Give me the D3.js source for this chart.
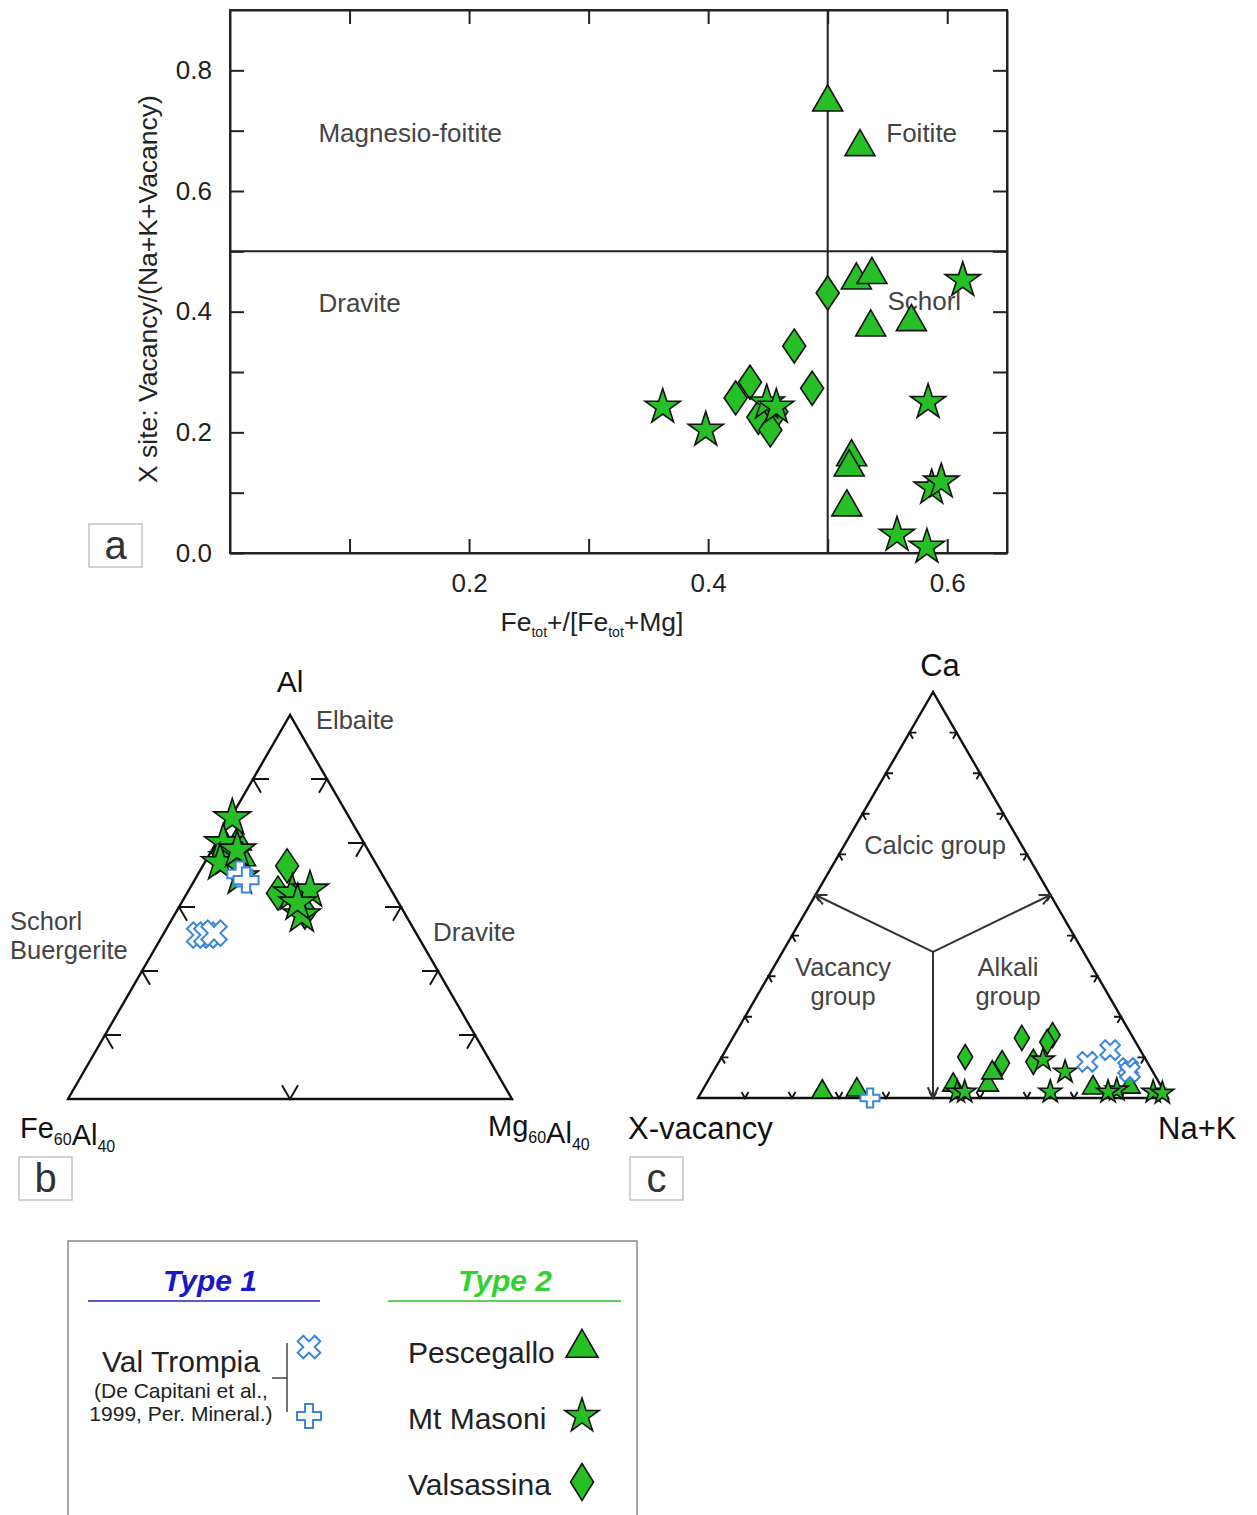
<!DOCTYPE html>
<html><head><meta charset="utf-8">
<script src="https://cdn.jsdelivr.net/npm/d3@7"></script>
<style>
body{margin:0;background:#fff;}
text{font-family:"Liberation Sans",Arial,sans-serif;}
</style>
</head><body>
<svg id="chart" width="1257" height="1515"></svg>
<script>
// ---------- Panel a: [Fe_tot/(Fe_tot+Mg), X-site vacancy/(Na+K+vacancy)]
const aPescegallo = [[0.500,0.747],[0.527,0.673],[0.524,0.452],[0.537,0.461],[0.536,0.374],[0.570,0.383],[0.520,0.159],[0.518,0.142],[0.516,0.076]];
const aMasoni = [[0.613,0.452],[0.584,0.250],[0.587,0.108],[0.595,0.118],[0.558,0.030],[0.583,0.010],[0.362,0.242],[0.398,0.204],[0.449,0.249],[0.457,0.242]];
const aValsassina = [[0.500,0.431],[0.472,0.343],[0.487,0.273],[0.435,0.283],[0.423,0.257],[0.442,0.225],[0.457,0.234],[0.452,0.204]];
const aXTicks = [0.1,0.2,0.3,0.4,0.5,0.6];
const aYTicks = [0,0.1,0.2,0.3,0.4,0.5,0.6,0.7,0.8];
const aFields = [{t:"Magnesio-foitite",x:0.074,y:0.681},{t:"Foitite",x:0.549,y:0.681},{t:"Dravite",x:0.074,y:0.400},{t:"Schorl",x:0.550,y:0.403}];

// ---------- Panel b (Al – Fe60Al40 – Mg60Al40), triangle fractions [Al, Mg]; Fe = 1 - Al - Mg
const bPescegallo = [[0.661,0.023],[0.669,0.048],[0.628,0.078]];
const bMasoni = [[0.732,0.004],[0.628,0.046],[0.667,0.016],[0.578,0.098],[0.615,0.035],[0.648,0.057],[0.536,0.237],[0.544,0.273],[0.479,0.287],[0.510,0.262]];
const bValsassina = [[0.607,0.190],[0.536,0.205],[0.518,0.259],[0.487,0.290]];
const bTrompiaX = [[0.427,0.083],[0.427,0.099],[0.432,0.113]];
const bTrompiaPlus = [[0.586,0.094],[0.570,0.116]];
const bTicks = [1/6,2/6,3/6,4/6,5/6];

// ---------- Panel c (Ca – X-vacancy – Na+K), fractions [Ca, Na+K]; vacancy = 1 - Ca - (Na+K)
const cPescegallo = [[0.015,0.257],[0.020,0.328],[0.032,0.527],[0.032,0.601],[0.062,0.595],[0.025,0.828],[0.027,0.905]];
const cMasoni = [[0.015,0.544],[0.015,0.560],[0.094,0.687],[0.064,0.749],[0.015,0.742],[0.020,0.881],[0.015,0.865],[0.015,0.961],[0.012,0.982]];
const cValsassina = [[0.101,0.518],[0.086,0.604],[0.148,0.615],[0.155,0.677],[0.138,0.674],[0.089,0.669]];
const cTrompiaX = [[0.089,0.784],[0.118,0.818],[0.074,0.878],[0.064,0.887]];
const cTrompiaPlus = [[0.0,0.366]];
const cTicks = [0.1,0.2,0.3,0.4,0.5,0.6,0.7,0.8,0.9];
const cJunction = [0.36,0.32];

const GREEN = "#26c026", BLUE = "#3b86dd", INK = "#222";
const svg = d3.select("#chart");

// ---------- marker helpers
function triPath(w){const h=w*0.87;return `M0,${-2*h/3}L${w/2},${h/3}L${-w/2},${h/3}Z`;}
function diaPath(w,h){return `M0,${-h/2}L${w/2},0L0,${h/2}L${-w/2},0Z`;}
function starPath(r){return d3.symbol(d3.symbolStar, r*r/0.8908130915292852)();}
function crossPath(w){return d3.symbol(d3.symbolCross, (w/3)*(w/3)*5)();}
function marker(g,type,x,y,s){
  let p, rot=0, fill=GREEN, stroke="#111", sw=1.6;
  if(type==="tri") p=triPath(s.tri);
  else if(type==="star") p=starPath(s.star);
  else if(type==="dia") p=diaPath(s.dw,s.dh);
  else if(type==="x"){p=crossPath(s.x);rot=45;fill="#fff";stroke=BLUE;sw=2;}
  else {p=crossPath(s.plus);fill="#fff";stroke=BLUE;sw=2;}
  g.append("path").attr("d",p).attr("transform",`translate(${x},${y}) rotate(${rot})`)
   .attr("fill",fill).attr("stroke",stroke).attr("stroke-width",sw).attr("stroke-linejoin","miter");
}

// ================= Panel a =================
const ax = d3.scaleLinear().domain([0,0.65]).range([230,1007]);
const ay = d3.scaleLinear().domain([0,0.9]).range([553,10]);
const ga = svg.append("g");
const fmt = d3.format(".1f");
const even = d => Math.round(d*10)%2===0;
function styleAxis(sel){sel.selectAll("path,line").attr("stroke",INK).attr("stroke-width",2);
  sel.selectAll("text").attr("font-family","Liberation Sans, Arial, sans-serif").attr("font-size",26).attr("fill","#222");}
ga.append("g").attr("transform","translate(0,553)")
  .call(d3.axisBottom(ax).tickValues(aXTicks).tickSize(-14).tickSizeOuter(0).tickPadding(21).tickFormat(d=>even(d)?fmt(d):""))
  .call(styleAxis);
ga.append("g").attr("transform","translate(0,10)")
  .call(d3.axisTop(ax).tickValues(aXTicks).tickSize(-14).tickSizeOuter(0).tickFormat(""))
  .call(styleAxis);
ga.append("g").attr("transform","translate(230,0)")
  .call(d3.axisLeft(ay).tickValues(aYTicks).tickSize(-14).tickSizeOuter(0).tickPadding(18).tickFormat(d=>even(d)?fmt(d):""))
  .call(styleAxis);
ga.append("g").attr("transform","translate(1007,0)")
  .call(d3.axisRight(ay).tickValues(aYTicks).tickSize(-14).tickSizeOuter(0).tickFormat(""))
  .call(styleAxis);
ga.append("rect").attr("x",ax(0)).attr("y",ay(0.9)).attr("width",ax(0.65)-ax(0)).attr("height",ay(0)-ay(0.9))
  .attr("fill","none").attr("stroke",INK).attr("stroke-width",2);
ga.append("line").attr("x1",ax(0.5)).attr("x2",ax(0.5)).attr("y1",ay(0)).attr("y2",ay(0.9)).attr("stroke",INK).attr("stroke-width",2);
ga.append("line").attr("x1",ax(0)).attr("x2",ax(0.65)).attr("y1",ay(0.5)).attr("y2",ay(0.5)).attr("stroke",INK).attr("stroke-width",2);
aFields.forEach(f=>ga.append("text").attr("x",ax(f.x)).attr("y",ay(f.y)).attr("font-size",26).attr("fill","#444").text(f.t));
ga.append("text").attr("transform",`translate(157,289) rotate(-90)`).attr("text-anchor","middle").attr("font-size",26.5).attr("fill","#222")
  .text("X site: Vacancy/(Na+K+Vacancy)");
const xl = ga.append("text").attr("x",592).attr("y",631).attr("text-anchor","middle").attr("font-size",26.5).attr("fill","#222");
xl.append("tspan").text("Fe");
xl.append("tspan").attr("font-size",14).attr("dy",6).text("tot");
xl.append("tspan").attr("dy",-6).text("+/[Fe");
xl.append("tspan").attr("font-size",14).attr("dy",6).text("tot");
xl.append("tspan").attr("dy",-6).text("+Mg]");
const sA = {tri:30,star:18.5,dw:23,dh:34,x:24,plus:22};
aValsassina.forEach(d=>marker(ga,"dia",ax(d[0]),ay(d[1]),sA));
aPescegallo.forEach(d=>marker(ga,"tri",ax(d[0]),ay(d[1]),sA));
aMasoni.forEach(d=>marker(ga,"star",ax(d[0]),ay(d[1]),sA));

// ---------- panel letter boxes
function letterBox(x,y,t){
  svg.append("rect").attr("x",x).attr("y",y).attr("width",53).attr("height",43).attr("fill","#fff").attr("stroke","#c4c4c4").attr("stroke-width",1.5);
  svg.append("text").attr("x",x+26.5).attr("y",y+35).attr("text-anchor","middle").attr("font-family","Open Sans, sans-serif").attr("font-size",40).attr("fill","#333").text(t);
}
letterBox(89,524,"a");
letterBox(19,1157,"b");
letterBox(630,1157,"c");

// ---------- ternary helpers
function ternary(g,P,ticks,len,bottomTicks,sw){
  const A=P(1,0),L=P(0,0),R=P(0,1);
  const nrm=(p,q)=>{const dx=q[0]-p[0],dy=q[1]-p[1],l=Math.hypot(dx,dy);return [dx/l,dy/l];};
  const uRA=nrm(A,R),uLA=nrm(A,L),uAR=nrm(R,A),uAL=nrm(L,A);
  g.append("path").attr("d",`M${A}L${L}L${R}Z`).attr("fill","none").attr("stroke","#111").attr("stroke-width",sw).attr("stroke-linejoin","miter");
  const tk=(pt,u1,u2)=>g.append("path").attr("d",`M${pt[0]+len*u1[0]},${pt[1]+len*u1[1]}L${pt}L${pt[0]+len*u2[0]},${pt[1]+len*u2[1]}`)
     .attr("fill","none").attr("stroke","#111").attr("stroke-width",sw*0.8);
  ticks.forEach(t=>{ tk(P(t,0),[1,0],uRA); tk(P(t,1-t),[-1,0],uLA); });
  bottomTicks.forEach(t=> tk(P(0,t),uAR,uAL));
}

// ================= Panel b =================
const bxS = d3.scaleLinear().domain([0,1]).range([68,512]);
const byS = d3.scaleLinear().domain([0,1]).range([1099,715]);
const Pb = (al,mg)=>[bxS(mg+al/2), byS(al)];
const gb = svg.append("g");
ternary(gb,Pb,bTicks,16,[0.5],2.4);
const sB = {tri:27,star:19.5,dw:23,dh:34,x:27,plus:25};
bValsassina.forEach(d=>marker(gb,"dia",...Pb(d[0],d[1]),sB));
bPescegallo.forEach(d=>marker(gb,"tri",...Pb(d[0],d[1]),sB));
bMasoni.forEach(d=>marker(gb,"star",...Pb(d[0],d[1]),sB));
bTrompiaX.forEach(d=>marker(gb,"x",...Pb(d[0],d[1]),sB));
bTrompiaPlus.forEach(d=>marker(gb,"plus",...Pb(d[0],d[1]),sB));
gb.append("text").attr("x",290).attr("y",692).attr("text-anchor","middle").attr("font-size",30).attr("fill","#111").text("Al");
gb.append("text").attr("x",316).attr("y",729).attr("font-size",25.5).attr("fill","#444").text("Elbaite");
gb.append("text").attr("x",10).attr("y",930).attr("font-size",25.5).attr("fill","#444").text("Schorl");
gb.append("text").attr("x",10).attr("y",959).attr("font-size",25.5).attr("fill","#444").text("Buergerite");
gb.append("text").attr("x",433).attr("y",941).attr("font-size",26).attr("fill","#444").text("Dravite");
function subLabel(g,x,y,parts){
  const t=g.append("text").attr("x",x).attr("y",y).attr("font-size",29).attr("fill","#111");
  parts.forEach(([s,sub])=>{ t.append("tspan").text(s); t.append("tspan").attr("font-size",16).attr("dy",7).text(sub); t.append("tspan").attr("dy",-7).text(""); });
}
subLabel(gb,20,1138,[["Fe","60"],["Al","40"]]);
subLabel(gb,488,1136,[["Mg","60"],["Al","40"]]);

// ================= Panel c =================
const cxS = d3.scaleLinear().domain([0,1]).range([698,1168]);
const cyS = d3.scaleLinear().domain([0,1]).range([1098,692]);
const Pc = (ca,nk)=>[cxS(nk+ca/2), cyS(ca)];
const gc = svg.append("g");
ternary(gc,Pc,cTicks,7,cTicks,2.4);
// classification boundaries with open arrowheads
const J = Pc(cJunction[0],cJunction[1]);
[Pc(0.5,0),Pc(0.5,0.5),Pc(0,0.5)].forEach(E=>{
  gc.append("line").attr("x1",J[0]).attr("y1",J[1]).attr("x2",E[0]).attr("y2",E[1]).attr("stroke","#333").attr("stroke-width",2);
  const a=Math.atan2(E[1]-J[1],E[0]-J[0]), L=12, sp=0.45;
  const p1=[E[0]-L*Math.cos(a-sp),E[1]-L*Math.sin(a-sp)], p2=[E[0]-L*Math.cos(a+sp),E[1]-L*Math.sin(a+sp)];
  gc.append("path").attr("d",`M${p1}L${E}L${p2}`).attr("fill","none").attr("stroke","#333").attr("stroke-width",2);
});
const sC = {tri:21,star:12,dw:15,dh:25,x:21,plus:19};
cValsassina.forEach(d=>marker(gc,"dia",...Pc(d[0],d[1]),sC));
cPescegallo.forEach(d=>marker(gc,"tri",...Pc(d[0],d[1]),sC));
cMasoni.forEach(d=>marker(gc,"star",...Pc(d[0],d[1]),sC));
cTrompiaX.forEach(d=>marker(gc,"x",...Pc(d[0],d[1]),sC));
cTrompiaPlus.forEach(d=>marker(gc,"plus",...Pc(d[0],d[1]),sC));
gc.append("text").attr("x",940).attr("y",676).attr("text-anchor","middle").attr("font-size",31).attr("fill","#111").text("Ca");
gc.append("text").attr("x",935).attr("y",854).attr("text-anchor","middle").attr("font-size",25.5).attr("fill","#444").text("Calcic group");
gc.append("text").attr("x",843).attr("y",976).attr("text-anchor","middle").attr("font-size",25.5).attr("fill","#444").text("Vacancy");
gc.append("text").attr("x",843).attr("y",1005).attr("text-anchor","middle").attr("font-size",25.5).attr("fill","#444").text("group");
gc.append("text").attr("x",1008).attr("y",976).attr("text-anchor","middle").attr("font-size",25.5).attr("fill","#444").text("Alkali");
gc.append("text").attr("x",1008).attr("y",1005).attr("text-anchor","middle").attr("font-size",25.5).attr("fill","#444").text("group");
gc.append("text").attr("x",628).attr("y",1139).attr("font-size",31).attr("fill","#111").text("X-vacancy");
gc.append("text").attr("x",1158).attr("y",1139).attr("font-size",31).attr("fill","#111").text("Na+K");

// ================= Legend =================
const gl = svg.append("g");
gl.append("path").attr("d","M68,1515V1241H637V1515").attr("fill","none").attr("stroke","#888").attr("stroke-width",1.5);
gl.append("text").attr("x",210).attr("y",1291).attr("text-anchor","middle").attr("font-size",30).attr("font-weight","bold").attr("font-style","italic").attr("fill","#1818c8").text("Type 1");
gl.append("line").attr("x1",88).attr("x2",320).attr("y1",1301).attr("y2",1301).attr("stroke","#5a5ac8").attr("stroke-width",2);
gl.append("text").attr("x",505).attr("y",1291).attr("text-anchor","middle").attr("font-size",30).attr("font-weight","bold").attr("font-style","italic").attr("fill","#2fd22f").text("Type 2");
gl.append("line").attr("x1",388).attr("x2",621).attr("y1",1301).attr("y2",1301).attr("stroke","#5fd05f").attr("stroke-width",2);
gl.append("text").attr("x",181).attr("y",1372).attr("text-anchor","middle").attr("font-size",30).attr("fill","#222").text("Val Trompia");
gl.append("text").attr("x",181).attr("y",1398).attr("text-anchor","middle").attr("font-size",21).attr("fill","#222").text("(De Capitani et al.,");
gl.append("text").attr("x",181).attr("y",1421).attr("text-anchor","middle").attr("font-size",21).attr("fill","#222").text("1999, Per. Mineral.)");
gl.append("path").attr("d","M272,1378H287M287,1343V1412").attr("fill","none").attr("stroke","#444").attr("stroke-width",1.5);
const sL = {tri:32,star:18,dw:23,dh:37,x:24,plus:24};
marker(gl,"x",309,1347,sL);
marker(gl,"plus",309,1416,sL);
const legItems = [["Pescegallo","tri",1352],["Mt Masoni","star",1418],["Valsassina","dia",1484]];
legItems.forEach(([t,m,y])=>{
  gl.append("text").attr("x",408).attr("y",y+11).attr("font-size",30).attr("fill","#222").text(t);
  marker(gl,m,582,m==="tri"?y-4:y-2,sL);
});
</script>
</body></html>
